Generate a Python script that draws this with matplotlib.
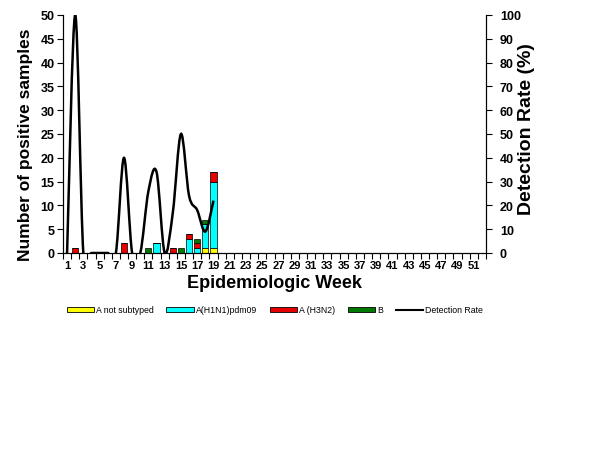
import numpy as np
import matplotlib
matplotlib.use('Agg')
import matplotlib.pyplot as plt
from matplotlib.path import Path
from matplotlib.patches import PathPatch, Patch
from matplotlib.lines import Line2D

plt.rcParams['font.family'] = ['Liberation Sans', 'DejaVu Sans']

weeks = np.arange(1, 53)
# counts per week (weeks 1..19 have data, the rest empty)
not_subtyped = [0, 0, 0, 0, 0, 0, 0, 0, 0, 0, 0, 0, 0, 0, 0, 0, 0, 1, 1]
h1n1 = [0, 0, 0, 0, 0, 0, 0, 0, 0, 0, 0, 2, 0, 0, 0, 3, 1, 5, 14]
h3n2 = [0, 1, 0, 0, 0, 0, 0, 2, 0, 0, 0, 0, 0, 1, 0, 1, 1, 0, 2]
flu_b = [0, 0, 0, 0, 0, 0, 0, 0, 0, 0, 1, 0, 0, 0, 1, 0, 1, 1, 0]
detection_rate = [0, 100, 0, 0, 0, 0, 0, 40, 0, 0, 26, 34, 0, 17, 50, 24, 18, 9, 22]

c_yel = '#FFFF00'
c_cyan = '#00FFFF'
c_red = '#E60000'
c_green = '#007A00'

fig = plt.figure(figsize=(6.14, 4.6), dpi=100)
ax = fig.add_axes([63/614, 1 - 254/460, (486 - 63)/614, (254 - 16)/460])
ax2 = ax.twinx()

n = len(not_subtyped)
x = np.arange(1, n + 1)
a = np.array(not_subtyped)
b = np.array(h1n1)
c = np.array(h3n2)
d = np.array(flu_b)
kw = dict(width=0.75, edgecolor='black', linewidth=0.5, zorder=2)
ax.bar(x, a, color=c_yel, **kw)
ax.bar(x, b, bottom=a, color=c_cyan, **kw)
ax.bar(x, c, bottom=a + b, color=c_red, **kw)
ax.bar(x, d, bottom=a + b + c, color=c_green, **kw)

# smoothed line (Excel style) as cubic bezier segments
y = np.array(detection_rate, dtype=float)
pts = np.column_stack([x, y])
verts = [pts[0]]
codes = [Path.MOVETO]
for i in range(len(pts) - 1):
    p0 = pts[i - 1] if i > 0 else pts[i]
    p1 = pts[i]
    p2 = pts[i + 1]
    p3 = pts[i + 2] if i + 2 < len(pts) else pts[i + 1]
    verts += [p1 + (p2 - p0) / 6, p2 - (p3 - p1) / 6, p2]
    codes += [Path.CURVE4] * 3
ax2.add_patch(PathPatch(Path(verts, codes), facecolor='none', edgecolor='black',
                        linewidth=1.8, zorder=3))

ax.set_xlim(0.5, 52.5)
ax.set_ylim(0, 50)
ax2.set_ylim(0, 100)
ax.set_yticks(np.arange(0, 51, 5))
ax2.set_yticks(np.arange(0, 101, 10))
ax.set_xticks(np.arange(1, 53, 2))
ax.set_xticklabels([str(w) for w in range(1, 53, 2)])
ax.set_xticks(np.arange(0.5, 53, 1), minor=True)
ax.tick_params(axis='x', which='major', length=0, pad=5)
ax.tick_params(axis='x', which='minor', length=4, direction='out', width=0.8)
ax.tick_params(axis='y', length=4, width=0.8, direction='out', pad=2)
ax2.tick_params(axis='y', length=4, width=0.8, direction='out', pad=6)

for lab in ax.get_yticklabels() + ax2.get_yticklabels():
    lab.set_fontsize(9)
    lab.set_fontweight('bold')
for lab in ax.get_xticklabels():
    lab.set_fontsize(8)
    lab.set_fontweight('bold')

for a_ in (ax, ax2):
    a_.spines['top'].set_visible(False)
    for s in a_.spines.values():
        s.set_linewidth(0.8)

ax.set_ylabel('Number of positive samples', fontsize=12.5, fontweight='bold')
ax.yaxis.set_label_coords(-30/423, 0.46)
ax2.set_ylabel('Detection Rate (%)', fontsize=14, fontweight='bold')
ax2.yaxis.set_label_coords(1 + 32/423, 0.525)
ax.set_xlabel('Epidemiologic Week', fontsize=13, fontweight='bold', labelpad=3)

handles = [
    Patch(facecolor=c_yel, edgecolor='black', linewidth=0.6, label='A not subtyped'),
    Patch(facecolor=c_cyan, edgecolor='black', linewidth=0.6, label='A(H1N1)pdm09'),
    Patch(facecolor=c_red, edgecolor='black', linewidth=0.6, label='A (H3N2)'),
    Patch(facecolor=c_green, edgecolor='black', linewidth=0.6, label='B'),
    Line2D([], [], color='black', linewidth=1.5, label='Detection Rate'),
]
fig.legend(handles=handles, loc='center', bbox_to_anchor=(275/614, 1 - 311/460),
           ncol=5, frameon=False, fontsize=6.3, handlelength=3.1, handleheight=0.5,
           columnspacing=1.4, handletextpad=0.3)

fig.savefig('out.png', dpi=100)
